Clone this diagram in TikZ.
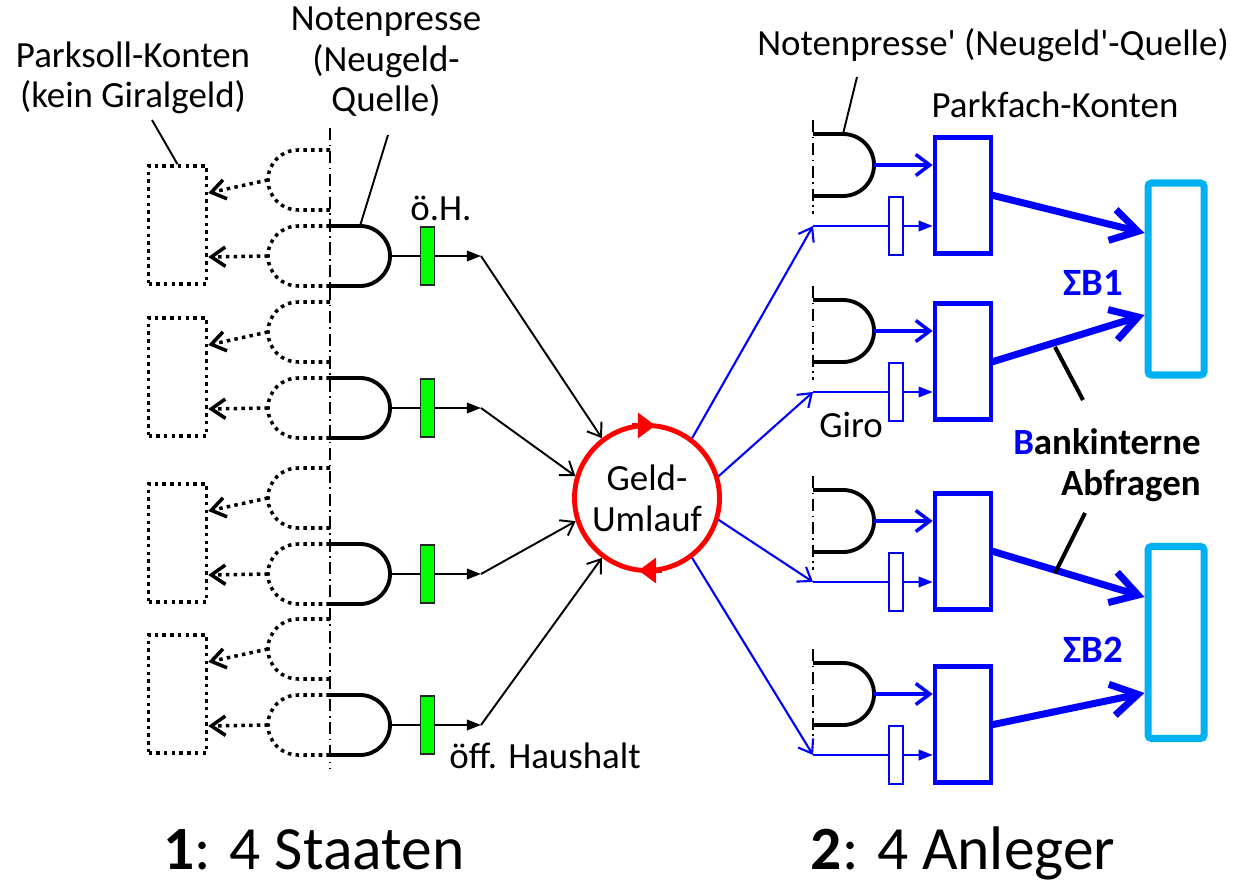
\documentclass[tikz,border=0pt]{standalone}
\usepackage{fontspec}
\setmainfont{Carlito}
\usepackage{xcolor}
\usepackage{tikz}
\usetikzlibrary{arrows.meta,positioning,calc}
\definecolor{GiroBlue}{RGB}{0,0,255}
\definecolor{SumCyan}{RGB}{0,176,240}
\definecolor{OhGreen}{RGB}{0,255,0}
\definecolor{LoopRed}{RGB}{255,0,0}

\begin{document}
\begin{tikzpicture}[
    x=0.2mm, y=-0.2mm,
    % ── Node styles ──
    parksoll/.style = {rectangle, draw, line width=2pt,
                       dash pattern=on 2pt off 2.4pt,
                       minimum width=1.16cm, minimum height=2.36cm},
    oh/.style       = {rectangle, draw=black!85, fill=OhGreen, line width=1.1pt,
                       minimum width=0.28cm, minimum height=1.16cm, inner sep=0pt},
    giro/.style     = {rectangle, draw=GiroBlue, fill=white, line width=1.1pt,
                       minimum width=0.28cm, minimum height=1.16cm, inner sep=0pt},
    parkfach/.style = {rectangle, draw=GiroBlue, line width=2.6pt,
                       minimum width=1.12cm, minimum height=2.32cm},
    summe/.style    = {rectangle, rounded corners=2pt, draw=SumCyan, line width=4pt,
                       minimum width=1.12cm, minimum height=3.84cm},
    umlauf/.style   = {circle, draw=LoopRed, line width=2.8pt, minimum size=2.9cm,
                       font=\fontsize{21}{23.5}\selectfont, align=center},
    lbl/.style      = {font=\fontsize{21}{23}\selectfont, align=center, inner sep=0pt},
    sigma/.style    = {font=\fontsize{22}{26}\selectfont\bfseries, text=GiroBlue, inner sep=0pt},
    titel/.style    = {font=\fontsize{35}{40}\selectfont, inner sep=0pt},
    % ── Line styles ──
    gate/.style     = {line width=2.2pt},
    dotgate/.style  = {line width=2pt, dash pattern=on 2pt off 2.4pt},
    mirror/.style   = {line width=1.1pt, dash pattern=on 7pt off 2.5pt on 1pt off 2.5pt},
    arr/.style      = {-{Triangle[length=8pt,width=6pt]}, line width=1.1pt},
    barb/.style     = {-{Straight Barb[length=7pt,width=10pt]}, line width=1.1pt},
    dotarr/.style   = {-{Straight Barb[length=8pt,width=11pt]}, line width=2pt,
                       dash pattern=on 2pt off 2.4pt},
    bluearr/.style  = {-{Straight Barb[length=7pt,width=10pt]}, line width=1.2pt, GiroBlue},
    bluefill/.style = {-{Triangle[length=8pt,width=6pt]}, line width=1.2pt, GiroBlue},
    bluegate/.style = {-{Straight Barb[length=8pt,width=12pt]}, line width=2pt, GiroBlue},
    fatarr/.style   = {-{Straight Barb[length=15pt,width=18pt]}, line width=4pt,
                       GiroBlue, line cap=round},
    ptr/.style      = {line width=1.1pt},
    fatptr/.style   = {line width=2.3pt},
    turn/.style     = {-{Triangle[length=10pt,width=14pt]}, line width=2.8pt, LoopRed},
]
\useasboundingbox (0,0) rectangle (1236,885);

% =====================================================================
%  LEFT: 4 Staaten -- Parksoll-Konten, Notenpresse, oeff. Haushalt
% =====================================================================
\draw[mirror] (330,128) -- (330,768);

% ── Staat 1
\node[parksoll] (pk1) at (177.5,225) {};
\draw[dotgate] (330,150) -- (298,150) arc[start angle=90, end angle=270, radius=0.6cm] -- (330,210);
\draw[dotgate] (330,226) -- (298,226) arc[start angle=90, end angle=270, radius=0.6cm] -- (330,286);
\draw[gate] (330,226) -- (360,226) coordinate (np1)
    arc[start angle=90, end angle=-90, radius=0.6cm] -- (330,286);
\coordinate (pa1) at (268,180);
\coordinate (pb1) at (268,256);
\draw[dotarr] (pa1) -- ([yshift=0.64cm]pk1.east);
\draw[dotarr] (pb1) -- ([yshift=-0.64cm]pk1.east);
\node[oh] (oh1) at (427.5,256) {};
\draw[ptr] (390,256) -- (oh1);
\draw[arr] (oh1) -- (481,256) coordinate (q1);

% ── Staat 2
\node[parksoll] (pk2) at (177.5,377) {};
\draw[dotgate] (330,302) -- (298,302) arc[start angle=90, end angle=270, radius=0.6cm] -- (330,362);
\draw[dotgate] (330,378) -- (298,378) arc[start angle=90, end angle=270, radius=0.6cm] -- (330,438);
\draw[gate] (330,378) -- (360,378) arc[start angle=90, end angle=-90, radius=0.6cm] -- (330,438);
\coordinate (pa2) at (268,332);
\coordinate (pb2) at (268,408);
\draw[dotarr] (pa2) -- ([yshift=0.64cm]pk2.east);
\draw[dotarr] (pb2) -- ([yshift=-0.64cm]pk2.east);
\node[oh] (oh2) at (427.5,408) {};
\draw[ptr] (390,408) -- (oh2);
\draw[arr] (oh2) -- (481,408) coordinate (q2);

% ── Staat 3
\node[parksoll] (pk3) at (177.5,543) {};
\draw[dotgate] (330,468) -- (298,468) arc[start angle=90, end angle=270, radius=0.6cm] -- (330,528);
\draw[dotgate] (330,544) -- (298,544) arc[start angle=90, end angle=270, radius=0.6cm] -- (330,604);
\draw[gate] (330,544) -- (360,544) arc[start angle=90, end angle=-90, radius=0.6cm] -- (330,604);
\coordinate (pa3) at (268,498);
\coordinate (pb3) at (268,574);
\draw[dotarr] (pa3) -- ([yshift=0.64cm]pk3.east);
\draw[dotarr] (pb3) -- ([yshift=-0.64cm]pk3.east);
\node[oh] (oh3) at (427.5,574) {};
\draw[ptr] (390,574) -- (oh3);
\draw[arr] (oh3) -- (481,574) coordinate (q3);

% ── Staat 4
\node[parksoll] (pk4) at (177.5,694) {};
\draw[dotgate] (330,619) -- (298,619) arc[start angle=90, end angle=270, radius=0.6cm] -- (330,679);
\draw[dotgate] (330,695) -- (298,695) arc[start angle=90, end angle=270, radius=0.6cm] -- (330,755);
\draw[gate] (330,695) -- (360,695) arc[start angle=90, end angle=-90, radius=0.6cm] -- (330,755);
\coordinate (pa4) at (268,649);
\coordinate (pb4) at (268,725);
\draw[dotarr] (pa4) -- ([yshift=0.64cm]pk4.east);
\draw[dotarr] (pb4) -- ([yshift=-0.64cm]pk4.east);
\node[oh] (oh4) at (427.5,725) {};
\draw[ptr] (390,725) -- (oh4);
\draw[arr] (oh4) -- (481,725) coordinate (q4);

% ── Labels links
\node[lbl] (pklbl) at (133,78) {Parksoll-Konten\\(kein Giralgeld)};
\node[lbl] (noten) at (386,62) {Notenpresse\\(Neugeld-\\Quelle)};
\node[lbl] (ohlbl) at (441,208) {ö.H.};
\node[lbl, anchor=west] (haushalt) at (449,756) {öff. Haushalt};
\coordinate (pk-tag) at (152,120);
\coordinate (np-tag) at (388,135);
\draw[ptr] (pk-tag) -- (pk1.north);
\draw[ptr] (np-tag) -- (np1);

% =====================================================================
%  MIDDLE: Geld-Umlauf
% =====================================================================
\node[umlauf] (umlauf) at (647,498) {Geld-\\Umlauf};
\draw[turn] ([xshift=-0.3cm,yshift=-1.4pt]umlauf.north) -- ([xshift=0.17cm,yshift=-1.4pt]umlauf.north);
\draw[turn] ([xshift=0.3cm,yshift=1.4pt]umlauf.south) -- ([xshift=-0.17cm,yshift=1.4pt]umlauf.south);

\draw[barb] (q1) -- (umlauf.127);
\draw[barb] (q2) -- (umlauf.163);
\draw[barb] (q3) -- (umlauf.198);
\draw[barb] (q4) -- (umlauf.233);

% =====================================================================
%  RIGHT: 4 Anleger -- Notenpresse', Giro, Parkfach-Konten
% =====================================================================

% ── Anleger 1
\draw[mirror] (813,120) -- (813,214);
\draw[gate] (813,134) -- (843,134) coordinate (np5)
    arc[start angle=90, end angle=-90, radius=0.62cm] -- (813,196);
\coordinate (dq1) at (874,165);
\coordinate (e1) at (813,226);
\node[parkfach] (pf1) at (963,195.5) {};
\node[giro] (g1) at (896,226) {};
\draw[bluegate] (dq1) -- (pf1.west |- dq1);
\draw[ptr, GiroBlue] (e1) -- (g1);
\draw[bluefill] (g1) -- (pf1.west |- g1);

% ── Anleger 2
\draw[mirror] (813,286) -- (813,380);
\draw[gate] (813,300) -- (843,300) arc[start angle=90, end angle=-90, radius=0.62cm] -- (813,362);
\coordinate (dq2) at (874,331);
\coordinate (e2) at (813,392);
\node[parkfach] (pf2) at (963,361.5) {};
\node[giro] (g2) at (896,392) {};
\draw[bluegate] (dq2) -- (pf2.west |- dq2);
\draw[ptr, GiroBlue] (e2) -- (g2);
\draw[bluefill] (g2) -- (pf2.west |- g2);

% ── Anleger 3
\draw[mirror] (813,476) -- (813,570);
\draw[gate] (813,490) -- (843,490) arc[start angle=90, end angle=-90, radius=0.62cm] -- (813,552);
\coordinate (dq3) at (874,521);
\coordinate (e3) at (813,582);
\node[parkfach] (pf3) at (963,551.5) {};
\node[giro] (g3) at (896,582) {};
\draw[bluegate] (dq3) -- (pf3.west |- dq3);
\draw[ptr, GiroBlue] (e3) -- (g3);
\draw[bluefill] (g3) -- (pf3.west |- g3);

% ── Anleger 4
\draw[mirror] (813,649) -- (813,743);
\draw[gate] (813,663) -- (843,663) arc[start angle=90, end angle=-90, radius=0.62cm] -- (813,725);
\coordinate (dq4) at (874,694);
\coordinate (e4) at (813,755);
\node[parkfach] (pf4) at (963,724.5) {};
\node[giro] (g4) at (896,755) {};
\draw[bluegate] (dq4) -- (pf4.west |- dq4);
\draw[ptr, GiroBlue] (e4) -- (g4);
\draw[bluefill] (g4) -- (pf4.west |- g4);

% ── Umlauf → Anleger
\draw[bluearr] (umlauf.53)  -- (e1);
\draw[bluearr] (umlauf.17)  -- (e2);
\draw[bluearr] (umlauf.-17) -- (e3);
\draw[bluearr] (umlauf.-53) -- (e4);

% ── Summen-Konten
\node[summe] (sb1) at (1176,279) {};
\node[summe] (sb2) at (1176,642.5) {};
\draw[fatarr] (pf1.east) -- ([yshift=0.92cm]sb1.west);
\draw[fatarr] (pf2.east) -- ([yshift=-0.72cm]sb1.west);
\draw[fatarr] (pf3.east) -- ([yshift=0.91cm]sb2.west);
\draw[fatarr] (pf4.east) -- ([yshift=-1.01cm]sb2.west);

% ── Labels rechts
\node[lbl] (noten2) at (993,45) {Notenpresse\textquotesingle{} (Neugeld\textquotesingle-Quelle)};
\node[lbl] (pflbl) at (1055,105) {Parkfach-Konten};
\node[lbl] (girolbl) at (851,425) {Giro};
\node[sigma] (sum1) at (1093,283) {ΣB1};
\node[sigma] (sum2) at (1093,650) {ΣB2};
\node[lbl, font=\fontsize{21}{23}\selectfont\bfseries, align=right, anchor=east] (abfr)
    at (1201,465) {{\color{GiroBlue}B}ankinterne\\Abfragen};
\coordinate (np2-tag) at (857,77);
\coordinate (bk-up) at (1083,400);
\coordinate (bk-dn) at (1085,513);
\draw[ptr] (np2-tag) -- (np5);
\draw[fatptr] (bk-up) -- (1055,347);
\draw[fatptr] (bk-dn) -- (1055,573);

% =====================================================================
%  TITLES
% =====================================================================
\node[titel, anchor=base] (t1) at (314,869) {\textbf{1}: 4 Staaten};
\node[titel, anchor=base] (t2) at (963,869) {\textbf{2}: 4 Anleger};

\end{tikzpicture}
\end{document}
